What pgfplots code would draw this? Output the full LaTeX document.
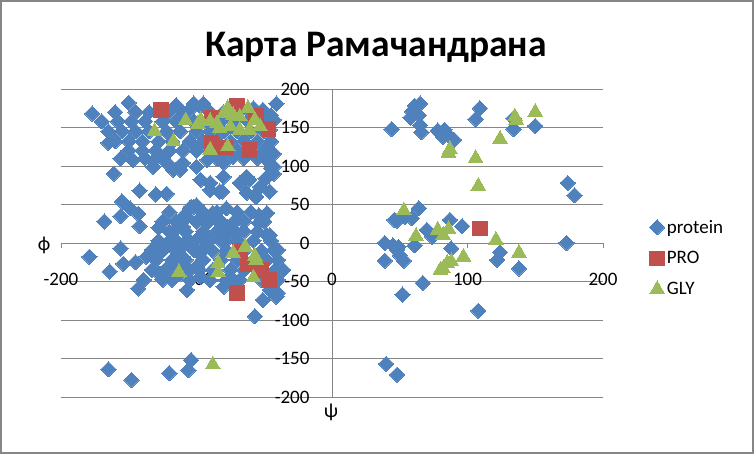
\documentclass[border=0pt]{standalone}
\usepackage{pgfplots}
\pgfplotsset{compat=1.18}
\usepackage{fontspec}
\setmainfont{Carlito}
\definecolor{xblue}{HTML}{4F81BD}
\definecolor{xred}{HTML}{C0504D}
\definecolor{xgreen}{HTML}{9BBB59}
\definecolor{xgray}{HTML}{868686}
\begin{document}
\begin{tikzpicture}
\useasboundingbox (0,0) rectangle (754pt,454pt);
\fill[white] (0,0) rectangle (754pt,454pt);
\draw[xgray, line width=1.3pt] (1pt,1pt) rectangle (753pt,453pt);
\begin{axis}[
 at={(61pt,57pt)}, anchor=south west,
 scale only axis, width=542pt, height=308pt,
 xmin=-200,xmax=200,ymin=-200,ymax=200,
 axis lines=middle,
 hide obscured x ticks=false, hide obscured y ticks=false,
 axis line style={-, xgray, line width=0.8pt},
 xtick={-200,-100,0,100,200},
 ytick={-200,-150,...,200},
 ymajorgrids, grid style={xgray, line width=0.8pt},
 tick style={xgray, line width=0.8pt},
 tick align=outside, major tick length=5pt,
 /pgf/number format/assume math mode=true,
 tick label style={font=\fontsize{19}{22}\selectfont},
 yticklabel style={anchor=east, xshift=-14pt},
 xticklabel style={anchor=north, yshift=-22pt},
 clip=false,
 legend cell align=left,
 legend style={draw=none, fill=none, at={(1.08,0.451)}, anchor=west,
   font=\fontsize{19}{22}\selectfont, row sep=13pt},
]
\addplot[only marks, mark=square*, mark size=5.4pt, mark options={rotate=45, fill=xblue, draw=xblue, line width=0pt}] coordinates {
(44,148)(61,178)(65,181)(59,171)(58,163)(64,166)(65,153)(66,144)(78,146)(83,147)(86,140)(90,134)(82,138)
(109,175)(106,161)(134,162)(134,148)(150,152)(174,78)(179,62)
(64,45)(48,29)(59,32)(46,30)(54,34)(70,17)(74,8)(87,30)(96,22)(39,0)(173,0)
(49,-5)(48,-9)(45,-3)(50,-16)(53,-23)(39,-23)(61,-3)(88,-7)(67,-52)(52,-67)(108,-88)
(122,-22)(124,-12)(138,-33)(40,-157)(48,-171)
(-177,168)(-165,130)(-156,110)(-161,90)(-150,182)(-142,68)(-130,63)(-122,64)
(-168,28)(-156,35)(-155,54)(-149,45)(-143,38)(-142,22)(-128,20)
(-104,47)(-110,34)(-110,21)(-78,45)(-90,78)(-81,67)(-68,78)(-61,82)(-53,73)(-63,65)(-56,60)
(-43,90)(-48,39)(-54,36)(-88,39)(-83,30)(-78,21)(-92,26)
(-115,179)(-105,173)(-97,177)(-58,175)(-51,173)(-43,160)(-46,147)(-48,108)(-43,99)
(-132,99)(-117,95)(-110,104)(-100,99)(-92,108)(-80,104)(-73,112)(-63,86)
(-147,108)(-132,106)(-120,101)(-112,95)(-97,82)(-90,69)(-80,86)(-49,84)(-45,97)(-43,116)
(-41,181)(-45,166)(-95,181)(-102,181)
(-160,170)(-145,170)(-135,170)(-120,170)(-110,170)(-90,170)(-80,170)(-70,170)(-60,170)(-50,170)
(-170,158)(-158,158)(-148,158)(-138,158)(-125,158)(-115,158)(-102,158)(-92,158)(-82,158)(-72,158)(-62,158)(-52,158)(-44,158)
(-165,145)(-155,145)(-145,145)(-135,145)(-122,145)(-112,145)(-100,145)(-90,145)(-80,145)(-70,145)(-60,145)(-50,145)
(-160,132)(-150,132)(-140,132)(-128,132)(-118,132)(-105,132)(-95,132)(-85,132)(-75,132)(-65,132)(-55,132)(-45,132)
(-150,120)(-140,120)(-130,120)(-120,120)(-110,120)(-100,120)(-90,120)(-80,120)(-70,120)(-60,120)(-50,120)
(-138,110)(-125,110)(-85,110)(-65,110)(-55,110)
(-120,40)(-95,40)(-85,40)(-70,40)(-60,40)
(-125,28)(-115,28)(-100,28)(-72,28)(-65,28)(-50,28)
(-120,15)(-108,15)(-95,15)(-85,15)(-75,15)(-65,15)(-55,15)
(-128,3)(-115,3)(-105,3)(-92,3)(-80,3)(-70,3)(-58,3)(-45,3)
(-125,-10)(-115,-10)(-100,-10)(-88,-10)(-78,-10)(-65,-10)(-52,-10)
(-130,-22)(-118,-22)(-108,-22)(-95,-22)(-82,-22)(-70,-22)(-48,-22)(-40,-22)
(-122,-35)(-110,-35)(-98,-35)(-88,-35)(-75,-35)(-65,-35)(-42,-35)
(-118,-48)(-105,-48)(-90,-48)(-78,-48)(-68,-48)(-52,-48)(-40,-48)
(-179,-18)(-164,-37)(-156,-7)(-154,-27)(-145,-25)(-133,-9)(-137,-18)(-127,-7)(-122,-3)
(-118,6)(-116,17)(-112,26)(-107,34)(-105,45)(-100,49)(-128,-39)(-121,-31)(-115,-26)(-125,-48)
(-107,-61)(-112,-39)(-105,-35)(-110,-18)(-102,-9)(-100,4)(-107,4)(-112,-7)(-139,-48)(-143,-59)(-133,-35)
(-83,67)(-57,62)(-46,67)(-102,47)(-54,26)(-46,10)(-40,-9)(-36,-35)(-40,-65)(-46,-61)(-57,-95)
(-92,26)(-85,30)(-78,21)(-70,13)(-90,4)(-95,-9)(-80,0)(-100,-31)(-97,-44)(-75,-44)(-80,-57)
(-43,-9)(-41,-70)(-51,-74)(-73,-52)(-48,10)
(-165,-164)(-148,-178)(-120,-169)(-106,-165)(-104,-152)
};
\addlegendentry{protein}
\addplot[only marks, mark=square*, mark size=7.3pt, mark options={fill=xred, draw=xred, line width=0pt}] coordinates {
(-126,173)(-70,178)(-89,163)(-56,165)(-47,148)(-89,130)(-61,121)(-79,124)(109,19)
(-70,-65)(-68,-10)(-62,-28)(-52,-35)(-46,-48)
};
\addlegendentry{PRO}
\addplot[only marks, mark=triangle*, mark size=8.5pt, mark options={fill=xgreen, draw=xgreen, line width=0pt}] coordinates {
(-131,145)(-117,132)(-108,159)(-99,154)(-97,160)(-90,158)(-85,155)(-80,168)(-77,175)(-73,166)(-68,164)
(-62,175)(-57,160)(-53,151)(-83,149)(-75,151)(-68,147)(-61,147)(-90,121)(-77,125)
(-88,-158)(-113,-38)(-84,-26)(-84,-38)(-73,-13)(-64,-5)(-57,-17)(-56,-22)(-58,-45)
(53,42)(87,122)(86,117)(106,110)(108,74)(124,135)(135,164)(136,159)(150,170)
(62,9)(78,17)(86,18)(82,10)(85,-26)(82,-33)(88,-24)(97,-18)(80,-35)(121,4)(138,-13)
};
\addlegendentry{GLY}
\end{axis}
\node[font=\fontsize{37.5}{42}\selectfont\bfseries] at (376pt,407pt) {Карта Рамачандрана};
\node[font=\fontsize{20}{24}\selectfont] at (44pt,209pt) {ф};
\node[font=\fontsize{20}{24}\selectfont] at (331pt,42pt) {ψ};
\end{tikzpicture}
\end{document}
